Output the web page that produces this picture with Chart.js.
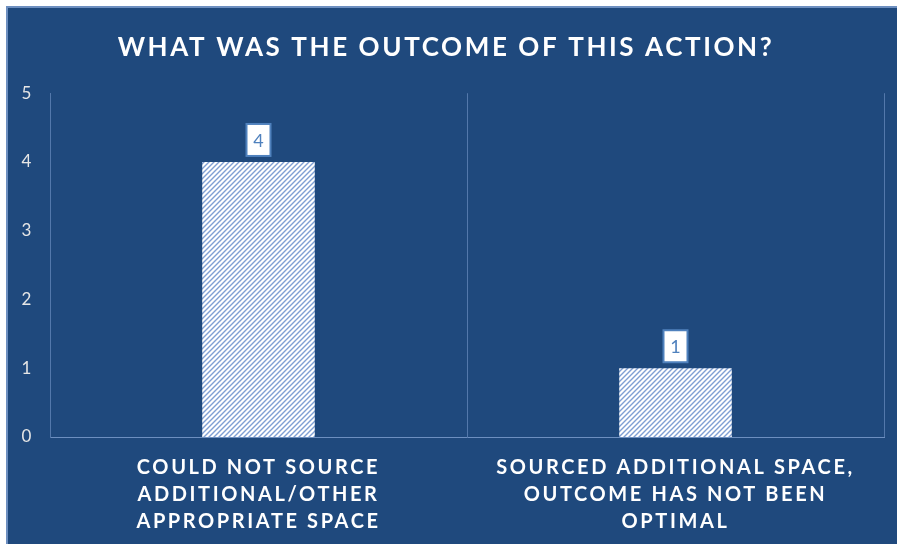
<!DOCTYPE html>
<html>
<head>
<meta charset="utf-8">
<script src="https://cdn.jsdelivr.net/npm/chart.js@4"></script>
<style>
  body { margin: 0; background: #fff; }
  #wrap {
    position: absolute; left: 6px; top: 6px; width: 891px; height: 538px;
    background: #1F497D; border-left: 2px solid #6d8fc0; border-top: 2px solid #6d8fc0;
    box-sizing: border-box;
  }
  canvas { display: block; }
</style>
</head>
<body>
<div id="wrap"><canvas id="myChart" width="889" height="536"></canvas></div>
<script>
var titleText = "WHAT WAS THE OUTCOME OF THIS ACTION?";
var categories = [
  ["COULD NOT SOURCE", "ADDITIONAL/OTHER", "APPROPRIATE SPACE"],
  ["SOURCED ADDITIONAL SPACE,", "OUTCOME HAS NOT BEEN", "OPTIMAL"]
];
var counts = [4, 1];
var yMax = 5;

// diagonal hatch fill like the excel pattern
function makeHatch() {
  var c = document.createElement("canvas");
  c.width = 5;
  c.height = 5;
  var g = c.getContext("2d");
  g.fillStyle = "#ffffff";
  g.fillRect(0, 0, 5, 5);
  g.strokeStyle = "#7f9fd3";
  g.lineWidth = 1.4;
  g.beginPath();
  g.moveTo(-1, 6); g.lineTo(6, -1);
  g.moveTo(-1, 1); g.lineTo(1, -1);
  g.moveTo(4, 6); g.lineTo(6, 4);
  g.stroke();
  return g.createPattern(c, "repeat");
}

var spacingPlugin = {
  id: "spacing",
  beforeDraw: function (chart) {
    chart.ctx.letterSpacing = "2.6px";
  }
};

var boxLabels = {
  id: "boxLabels",
  afterDatasetsDraw: function (chart) {
    var ctx = chart.ctx;
    var meta = chart.getDatasetMeta(0);
    ctx.save();
    ctx.letterSpacing = "0px";
    meta.data.forEach(function (bar, i) {
      var w = 24, h = 32;
      var x = bar.x - w / 2;
      var y = bar.y - 6 - h;
      ctx.fillStyle = "#ffffff";
      ctx.fillRect(x, y, w, h);
      ctx.strokeStyle = "#4f81bd";
      ctx.lineWidth = 2;
      ctx.strokeRect(x, y, w, h);
      ctx.fillStyle = "#4f81bd";
      ctx.font = "18px Lato";
      ctx.textAlign = "center";
      ctx.textBaseline = "middle";
      ctx.fillText(String(counts[i]), bar.x, y + h / 2 + 1);
    });
    ctx.restore();
  }
};

var ctx = document.getElementById("myChart");
new Chart(ctx, {
  type: "bar",
  data: {
    labels: categories,
    datasets: [{
      data: counts,
      backgroundColor: makeHatch(),
      borderWidth: 0,
      categoryPercentage: 1,
      barPercentage: 0.27
    }]
  },
  options: {
    responsive: false,
    devicePixelRatio: 1,
    animation: false,
    layout: { padding: { left: 0, right: 13, top: 0, bottom: 0 } },
    plugins: {
      legend: { display: false },
      tooltip: { enabled: false },
      title: {
        display: true,
        text: titleText,
        color: "#ffffff",
        font: { family: "Lato", size: 26, weight: "bold", lineHeight: 1.2 },
        padding: { top: 24, bottom: 30 }
      }
    },
    scales: {
      x: {
        grid: { display: true, color: "#5378ab", lineWidth: 1, drawTicks: false, offset: true },
        border: { display: true, color: "#6d8fc0", width: 1 },
        ticks: {
          color: "#ffffff",
          maxRotation: 0,
          autoSkip: false,
          padding: 17,
          font: { family: "Lato", size: 20, weight: "bold", lineHeight: 1.35 }
        },
        afterFit: function (scale) { scale.height = 107; }
      },
      y: {
        min: 0,
        max: yMax,
        grid: { display: false, drawTicks: false },
        border: { display: true, color: "#5378ab", width: 1 },
        ticks: {
          stepSize: 1,
          color: "#e6e6e6",
          padding: 16,
          font: { family: "Lato", size: 17 }
        },
        afterFit: function (scale) { scale.width = 42; }
      }
    }
  },
  plugins: [spacingPlugin, boxLabels]
});
</script>
</body>
</html>
